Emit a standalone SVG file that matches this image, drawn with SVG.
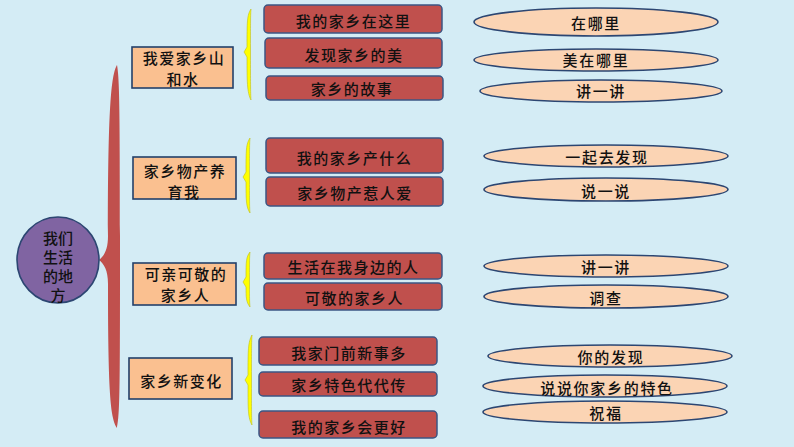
<svg xmlns="http://www.w3.org/2000/svg" width="794" height="447" viewBox="0 0 794 447">
<style>
text{font-family:"Noto Sans CJK SC","Noto Sans CJK TC",sans-serif;font-size:15px;fill:#111;text-anchor:middle;dominant-baseline:central;font-weight:500}
.cat rect{fill:#fac090;stroke:#24406a;stroke-width:1.6}
.cat text{letter-spacing:1.5px;font-size:15px}
.item rect{fill:#c0504d;stroke:#3b5684;stroke-width:1.5}
.item text{letter-spacing:1.5px}
.leaf ellipse{fill:#fbd4b4;stroke:#2c4672;stroke-width:1.6}
.leaf text{letter-spacing:1.7px}
.ybrace{fill:#ffff00;stroke:#bdbd20;stroke-width:0.6}
</style>
<rect x="0" y="0" width="794" height="447" fill="#d4ecf5"/>

<g id="connectors">
  <path d="M117,65 C111,75 108,110 108,236 C108,250 104,256 99,260 C104,264 108,270 108,284 C108,400 111,418 117,428 C119.5,415 120,400 120,284 L120,236 C120,110 119.5,78 117,65 Z" fill="#c0504d"/>
  <path class="ybrace" d="M251,9 C247,15 247,22 247,47 L244,52 L247,57 C247,80 247,93 251,100 C250.5,93 250.5,80 250.5,56 L250.5,48 C250.5,22 250.5,15 251,9 Z"/>
  <path class="ybrace" d="M250,138 C246,144 246,150 246,172 L243,177 L246,182 C246,200 246,207 250,213 C249.5,207 249.5,200 249.5,181 L249.5,173 C249.5,150 249.5,144 250,138 Z"/>
  <path class="ybrace" d="M250,252 C246,257 246,262 246,277 L243,282 L246,287 C246,297 246,302 250,307 C249.5,302 249.5,297 249.5,286 L249.5,278 C249.5,262 249.5,257 250,252 Z"/>
  <path class="ybrace" d="M252,335 C248,342 248,350 248,375 L245,380 L248,385 C248,410 248,418 252,425 C251.5,418 251.5,410 251.5,384 L251.5,376 C251.5,350 251.5,342 252,335 Z"/>
</g>

<g id="root">
  <ellipse cx="58" cy="260" rx="41" ry="43" fill="#8064a2" stroke="#2c4672" stroke-width="1.6"/>
  <text x="58" y="237">我们</text>
  <text x="58" y="256">生活</text>
  <text x="58" y="275">的地</text>
  <text x="58" y="294">方</text>
</g>

<g id="cat1" class="cat">
  <rect x="132" y="47" width="101" height="41"/>
  <text x="184" y="57.5">我爱家乡山</text>
  <text x="183" y="78.5">和水</text>
</g>
<g id="cat2" class="cat">
  <rect x="133" y="157" width="103" height="42"/>
  <text x="185" y="170">家乡物产养</text>
  <text x="184" y="191.5">育我</text>
</g>
<g id="cat3" class="cat">
  <rect x="133" y="263" width="103" height="42"/>
  <text x="186" y="273.5">可亲可敬的</text>
  <text x="185.5" y="294.5">家乡人</text>
</g>
<g id="cat4" class="cat">
  <rect x="129" y="358" width="103" height="41"/>
  <text x="181.5" y="380">家乡新变化</text>
</g>

<g id="item1" class="item"><rect x="264" y="5" width="178" height="28" rx="4"/><text x="353.5" y="20">我的家乡在这里</text></g>
<g id="item2" class="item"><rect x="265" y="38" width="177" height="30" rx="4"/><text x="354" y="54">发现家乡的美</text></g>
<g id="item3" class="item"><rect x="266" y="76" width="177" height="24" rx="4"/><text x="352" y="88.5">家乡的故事</text></g>
<g id="item4" class="item"><rect x="266" y="138" width="177" height="35" rx="4"/><text x="354.5" y="157.5">我的家乡产什么</text></g>
<g id="item5" class="item"><rect x="266" y="177" width="177" height="29" rx="4"/><text x="355" y="192.5">家乡物产惹人爱</text></g>
<g id="item6" class="item"><rect x="264" y="253" width="178" height="26" rx="4"/><text x="353.5" y="266.5">生活在我身边的人</text></g>
<g id="item7" class="item"><rect x="264" y="283" width="178" height="27" rx="4"/><text x="354.5" y="297">可敬的家乡人</text></g>
<g id="item8" class="item"><rect x="259" y="337" width="178" height="28" rx="4"/><text x="349" y="352.5">我家门前新事多</text></g>
<g id="item9" class="item"><rect x="259" y="372" width="178" height="24" rx="4"/><text x="349" y="384.5">家乡特色代代传</text></g>
<g id="item10" class="item"><rect x="259" y="411" width="178" height="27" rx="4"/><text x="349" y="426">我的家乡会更好</text></g>

<g id="leaf1" class="leaf"><ellipse cx="596" cy="22" rx="122" ry="14"/><text x="596" y="22">在哪里</text></g>
<g id="leaf2" class="leaf"><ellipse cx="596" cy="60" rx="122" ry="11"/><text x="596" y="59">美在哪里</text></g>
<g id="leaf3" class="leaf"><ellipse cx="601" cy="91" rx="121" ry="11"/><text x="601" y="90.5">讲一讲</text></g>
<g id="leaf4" class="leaf"><ellipse cx="606" cy="156" rx="122" ry="11"/><text x="607" y="156.5">一起去发现</text></g>
<g id="leaf5" class="leaf"><ellipse cx="606" cy="189.5" rx="122" ry="11.5"/><text x="606" y="190">说一说</text></g>
<g id="leaf6" class="leaf"><ellipse cx="606" cy="266" rx="122" ry="11"/><text x="606" y="266.5">讲一讲</text></g>
<g id="leaf7" class="leaf"><ellipse cx="606" cy="296.5" rx="122" ry="11.5"/><text x="606" y="297">调查</text></g>
<g id="leaf8" class="leaf"><ellipse cx="610" cy="356" rx="122" ry="11"/><text x="611" y="356.5">你的发现</text></g>
<g id="leaf9" class="leaf"><ellipse cx="605" cy="386" rx="122" ry="11"/><text x="607" y="387">说说你家乡的特色</text></g>
<g id="leaf10" class="leaf"><ellipse cx="605" cy="412" rx="122" ry="11"/><text x="606" y="412.5">祝福</text></g>
</svg>
